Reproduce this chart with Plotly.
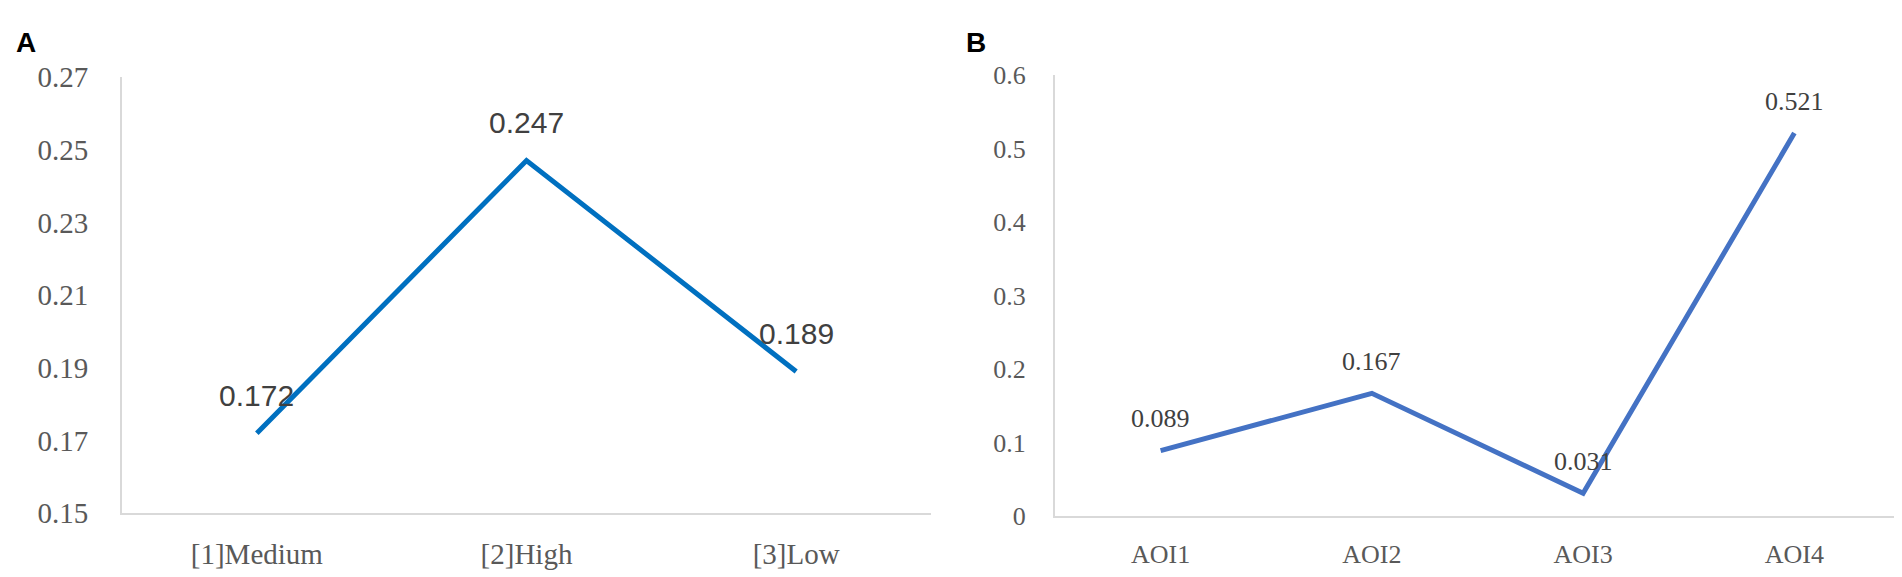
import plotly.graph_objects as go

# panel A
levels = ['[1]Medium', '[2]High', '[3]Low']
level_values = [0.172, 0.247, 0.189]
level_ticks = [0.15, 0.17, 0.19, 0.21, 0.23, 0.25, 0.27]

# panel B
aois = ['AOI1', 'AOI2', 'AOI3', 'AOI4']
aoi_values = [0.089, 0.167, 0.031, 0.521]
aoi_ticks = [0, 0.1, 0.2, 0.3, 0.4, 0.5, 0.6]

W, H = 1902, 577
axis_grey = '#D9D9D9'
label_grey = '#595959'
value_grey = '#404040'
serif = 'Liberation Serif, Times New Roman, serif'
sans = 'Liberation Sans, Arial, sans-serif'


def px_x(p):
    return p / W


def px_y(p):
    return 1 - p / H


fig = go.Figure()
fig.add_trace(go.Scatter(x=levels, y=level_values, mode='lines',
                         line=dict(color='#0070C0', width=5),
                         xaxis='x', yaxis='y', showlegend=False))
fig.add_trace(go.Scatter(x=aois, y=aoi_values, mode='lines',
                         line=dict(color='#4472C4', width=5),
                         xaxis='x2', yaxis='y2', showlegend=False))

annotations = []
for lv, v in zip(levels, level_values):
    annotations.append(dict(x=lv, y=v, xref='x', yref='y', text=f'{v:.3f}',
                            showarrow=False, yshift=38,
                            font=dict(family=sans, size=30, color=value_grey)))
for a, v in zip(aois, aoi_values):
    annotations.append(dict(x=a, y=v, xref='x2', yref='y2', text=f'{v:.3f}',
                            showarrow=False, yshift=32,
                            font=dict(family=serif, size=26, color=value_grey)))
# panel letters
annotations.append(dict(x=px_x(6), y=px_y(20), xref='paper', yref='paper', text='<b>A</b>',
                        showarrow=False, xanchor='left', yanchor='middle',
                        font=dict(family=sans, size=28, color='black')))
annotations.append(dict(x=px_x(956), y=px_y(20), xref='paper', yref='paper', text='<b>B</b>',
                        showarrow=False, xanchor='left', yanchor='middle',
                        font=dict(family=sans, size=28, color='black')))

axis_common = dict(showline=True, linecolor=axis_grey, linewidth=2,
                   showgrid=False, zeroline=False, ticks='')

fig.update_layout(
    width=W, height=H,
    margin=dict(l=0, r=0, t=0, b=0),
    paper_bgcolor='white', plot_bgcolor='white',
    annotations=annotations,
    xaxis=dict(domain=[px_x(114), px_x(923)], anchor='y', type='category',
               range=[-0.5, len(levels) - 0.5], ticklabelstandoff=14,
               tickfont=dict(family=serif, size=29, color=label_grey), **axis_common),
    yaxis=dict(domain=[px_y(518), px_y(56)], anchor='x', range=[0.15, 0.27],
               tickvals=level_ticks, ticktext=[f'{t:.2f}' for t in level_ticks],
               ticklabelstandoff=26,
               tickfont=dict(family=serif, size=29, color=label_grey), **axis_common),
    xaxis2=dict(domain=[px_x(1047), px_x(1892)], anchor='y2', type='category',
                range=[-0.5, len(aois) - 0.5], ticklabelstandoff=14,
                tickfont=dict(family=serif, size=26, color=label_grey), **axis_common),
    yaxis2=dict(domain=[px_y(521), px_y(54)], anchor='x2', range=[0, 0.6],
                tickvals=aoi_ticks, ticktext=[f'{t:g}' for t in aoi_ticks],
                ticklabelstandoff=22,
                tickfont=dict(family=serif, size=26, color=label_grey), **axis_common),
)

fig.write_html('out.html')
